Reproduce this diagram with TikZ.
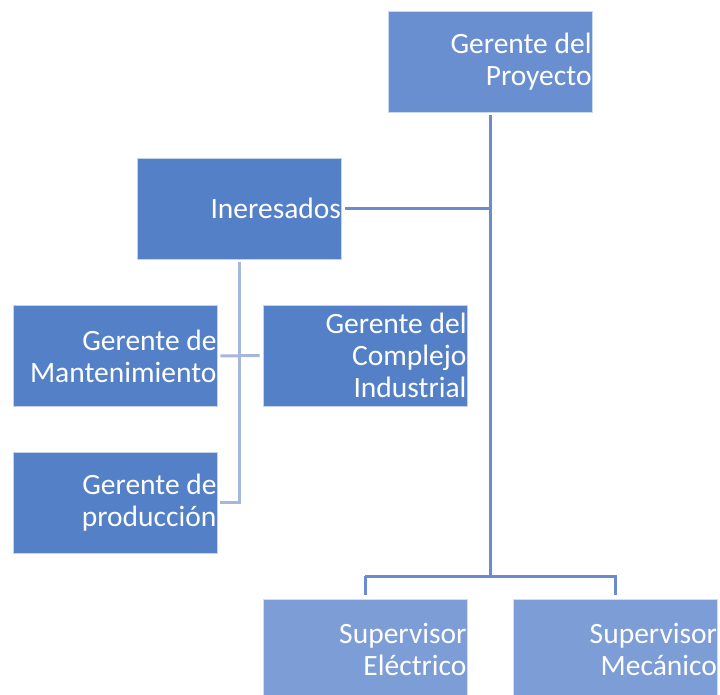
\documentclass[tikz,border=0pt]{standalone}
\usepackage{fontspec}
\setmainfont{Carlito}
\definecolor{cproy}{RGB}{105,143,208}
\definecolor{cmid}{RGB}{84,128,200}
\definecolor{csup}{RGB}{124,157,214}
\definecolor{cline}{RGB}{106,139,207}
\definecolor{clight}{RGB}{166,182,220}
\tikzset{
  box/.style={draw=white!65!#1, line width=0.8pt, fill=#1, text=white,
    minimum width=204pt, minimum height=101pt, text width=203pt, align=flush right,
    inner xsep=0.5pt, inner ysep=0pt,
    font=\fontsize{29.5}{32}\selectfont},
  mainline/.style={draw=cline, line width=3pt},
  lightline/.style={draw=clight, line width=3pt},
}
\begin{document}
\begin{tikzpicture}[x=1pt,y=-1pt]
\useasboundingbox (0,0) rectangle (720,695);
\clip (0,0) rectangle (720,695);
\node[box=cproy] (proy) at (490,61.5) {Gerente del\\Proyecto};
\node[box=cmid] (ine) at (239.5,208.5) {Ineresados};
\node[box=cmid] (mant) at (115,356) {Gerente de\\Mantenimiento};
\node[box=cmid] (comp) at (365,355.5) {Gerente del\\Complejo\\Industrial};
\node[box=cmid] (prod) at (115,502.5) {Gerente de\\producción};
\node[box=csup] (selec) at (365,649.5) {Supervisor\\Eléctrico};
\node[box=csup] (smec) at (615.5,649.5) {Supervisor\\Mecánico};
\coordinate (bus) at (490,576);
% main connectors
\draw[mainline, shorten <=3pt] (proy.south) -- (bus);
\draw[mainline, shorten <=3pt] (ine.east) -- (ine.east -| proy.south);
\draw[mainline, shorten >=4pt] (selec.north |- bus) -- (smec.north |- bus) -- (smec.north);
\draw[mainline, shorten >=4pt] (selec.north |- bus) -- (selec.north);
% light connectors
\draw[lightline, shorten <=3pt] (ine.south) -- (ine.south |- prod.east) -- ([xshift=3pt]prod.east);
\draw[lightline, shorten <=3pt, shorten >=3pt] (mant.east) -- (comp.west);
\end{tikzpicture}
\end{document}
